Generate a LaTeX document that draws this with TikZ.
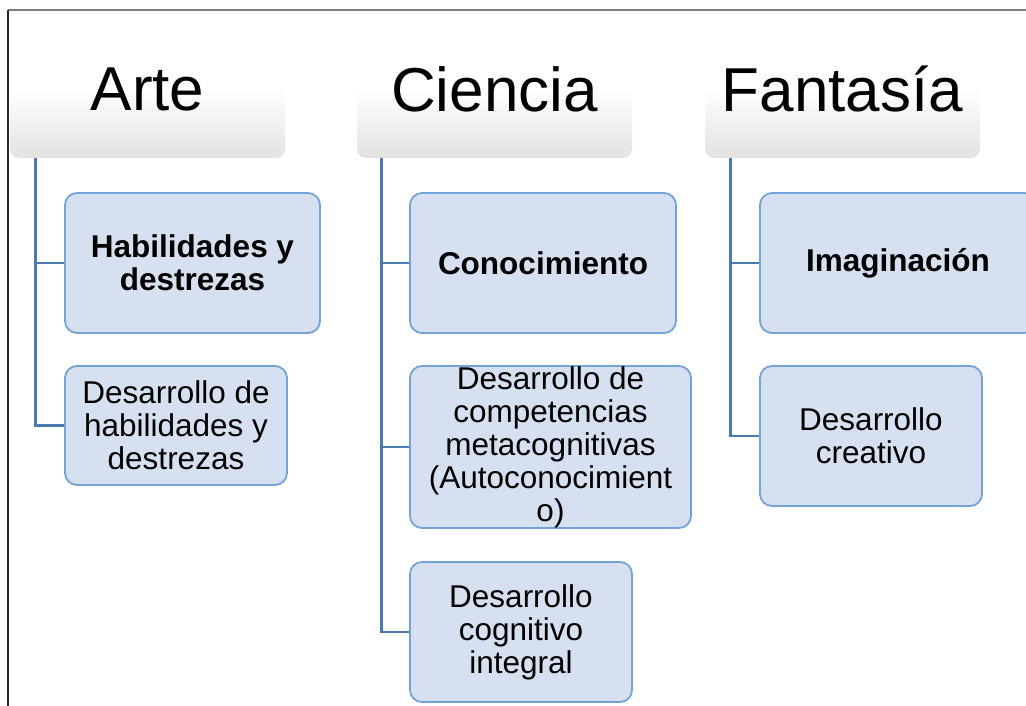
\documentclass[tikz,border=0pt]{standalone}
\usepackage{fontspec}
\setmainfont{Liberation Sans}
\usetikzlibrary{positioning}
\definecolor{frameTop}{RGB}{128, 128, 128}
\definecolor{frameSide}{RGB}{40, 40, 40}
\definecolor{boxFill}{RGB}{214, 224, 240}
\definecolor{boxLine}{RGB}{118, 163, 214}
\definecolor{treeLine}{RGB}{74, 122, 176}
\definecolor{headShade}{RGB}{226, 226, 226}
\tikzset{
    head_box/.style={
        rounded corners=9pt,
        top color=white,
        bottom color=headShade,
        middle color=white,
        minimum width=275pt,
        minimum height=138pt,
        inner sep=0pt,
        font=\fontsize{62}{70}\selectfont
    },
    item_box/.style={
        draw=boxLine,
        line width=1.8pt,
        fill=boxFill,
        rounded corners=12pt,
        align=center,
        inner sep=0pt,
        font=\fontsize{31.5}{33}\selectfont
    },
    item_bold/.style={
        item_box,
        font=\fontsize{31.5}{33}\selectfont\bfseries
    },
    tree_edge/.style={
        draw=treeLine,
        line width=2.8pt
    }
}
\begin{document}
\begin{tikzpicture}[x=1pt, y=-1pt]
    \useasboundingbox (0,0) rectangle (1026,706);
    \draw[frameTop, line width=1.5pt] (8,10) -- (1026,10);
    \draw[frameSide, line width=1.2pt] (8,10) -- (8,706);

    \node[head_box] (arte) at (147.5,89) {Arte};
    \node[head_box] (ciencia) at (494.5,89) {Ciencia};
    \node[head_box] (fantasia) at (842.5,89) {Fantasía};

    \node[item_bold, minimum width=255pt, minimum height=140pt] (a1) at (192.5,263) {Habilidades y\\destrezas};
    \node[item_box, minimum width=222pt, minimum height=119pt] (a2) at (176,425.5) {Desarrollo de\\habilidades y\\destrezas};

    \node[item_bold, minimum width=266pt, minimum height=140pt] (c1) at (543,263) {Conocimiento};
    \node[item_box, minimum width=281pt, minimum height=162pt] (c2) at (550.5,447) {Desarrollo de\\competencias\\metacognitivas\\(Autoconocimient\\o)};
    \node[item_box, minimum width=222pt, minimum height=140pt] (c3) at (521,632) {Desarrollo\\cognitivo\\integral};

    \node[item_bold, minimum width=276pt, minimum height=140pt] (f1) at (898,263) {Imaginación};
    \node[item_box, minimum width=222pt, minimum height=140pt] (f2) at (871,436) {Desarrollo\\creativo};

    \draw[tree_edge] ([xshift=26pt]arte.south west) |- (a1.west);
    \draw[tree_edge] ([xshift=26pt]arte.south west) |- (a2.west);
    \draw[tree_edge] ([xshift=25pt]ciencia.south west) |- (c1.west);
    \draw[tree_edge] ([xshift=25pt]ciencia.south west) |- (c2.west);
    \draw[tree_edge] ([xshift=25pt]ciencia.south west) |- (c3.west);
    \draw[tree_edge] ([xshift=26pt]fantasia.south west) |- (f1.west);
    \draw[tree_edge] ([xshift=26pt]fantasia.south west) |- (f2.west);
\end{tikzpicture}
\end{document}
